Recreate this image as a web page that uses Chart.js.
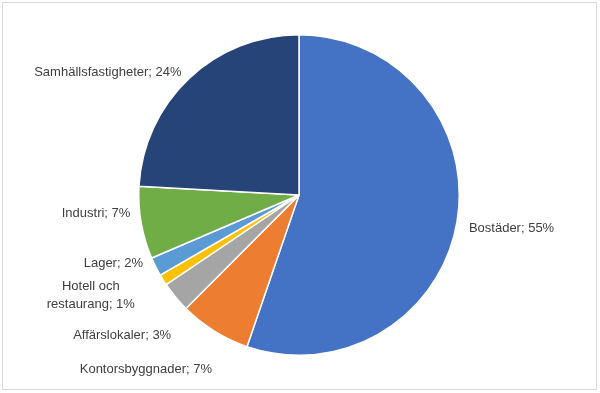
<!DOCTYPE html>
<html>
<head>
<meta charset="utf-8">
<script src="https://cdn.jsdelivr.net/npm/chart.js@4.4.1/dist/chart.umd.min.js"></script>
<style>
  html, body { margin: 0; padding: 0; background: #fff; }
  #wrap { width: 600px; height: 393px; }
</style>
</head>
<body>
<div id="wrap"><canvas id="myChart" width="600" height="393"></canvas></div>
<script>
// DATA (clockwise from 12 o'clock)
const categories = ['Bostäder', 'Kontorsbyggnader', 'Affärslokaler', 'Hotell och restaurang', 'Lager', 'Industri', 'Samhällsfastigheter'];
const shares = [55.2, 7.2, 3.1, 1.1, 1.9, 7.3, 24.1];
const sliceColors = ['#4472C4', '#ED7D31', '#A5A5A5', '#FFC000', '#5B9BD5', '#70AD47', '#264478'];
// label text lines
const labelLines = [
  ['Bostäder; 55%'],
  ['Kontorsbyggnader; 7%'],
  ['Affärslokaler; 3%'],
  ['Hotell och', 'restaurang; 1%'],
  ['Lager; 2%'],
  ['Industri; 7%'],
  ['Samhällsfastigheter; 24%']
];

const ctx = document.getElementById('myChart').getContext('2d');

// frame around the whole chart
const framePlugin = {
  id: 'frame',
  beforeDraw(chart) {
    const c = chart.ctx;
    c.save();
    c.fillStyle = '#fff';
    c.fillRect(0, 0, chart.width, chart.height);
    c.strokeStyle = '#D9D9D9';
    c.lineWidth = 1;
    c.strokeRect(2.5, 2.5, 594, 387);
    c.restore();
  }
};

// outside labels, nudged a bit like excel spreads them
const nudges = [[0, 5], [4, 28], [5, 31], [-18, 9], [-2, -9], [1, -11], [1, 3]];
const labelPlugin = {
  id: 'outLabels',
  afterDatasetsDraw(chart) {
    const c = chart.ctx;
    const meta = chart.getDatasetMeta(0);
    c.save();
    c.font = '13px "Liberation Sans", Arial, sans-serif';
    c.fillStyle = '#404040';
    c.textBaseline = 'middle';
    meta.data.forEach((arc, i) => {
      const mid = (arc.startAngle + arc.endAngle) / 2;
      const r = arc.outerRadius + 12;
      let x = arc.x + Math.cos(mid) * r + nudges[i][0];
      let y = arc.y + Math.sin(mid) * r + nudges[i][1];
      const lines = labelLines[i];
      const lh = 18;
      const right = Math.cos(mid) >= 0;
      if (lines.length > 1) {
        const w = Math.max(...lines.map(l => c.measureText(l).width));
        const cx = right ? x + w / 2 : x - w / 2;
        c.textAlign = 'center';
        lines.forEach((l, k) => {
          c.fillText(l, cx, y + (k - (lines.length - 1) / 2) * lh);
        });
      } else {
        c.textAlign = right ? 'left' : 'right';
        c.fillText(lines[0], x, y);
      }
    });
    c.restore();
  }
};

const chart = new Chart(ctx, {
  type: 'pie',
  data: {
    labels: categories,
    datasets: [{
      data: shares,
      backgroundColor: sliceColors,
      borderColor: '#ffffff',
      borderWidth: 1.5
    }]
  },
  options: {
    responsive: false,
    animation: false,
    layout: { padding: { top: 34, bottom: 37, left: 0, right: 2 } },
    plugins: {
      legend: { display: false },
      tooltip: { enabled: false }
    }
  },
  plugins: [framePlugin, labelPlugin]
});
</script>
</body>
</html>
